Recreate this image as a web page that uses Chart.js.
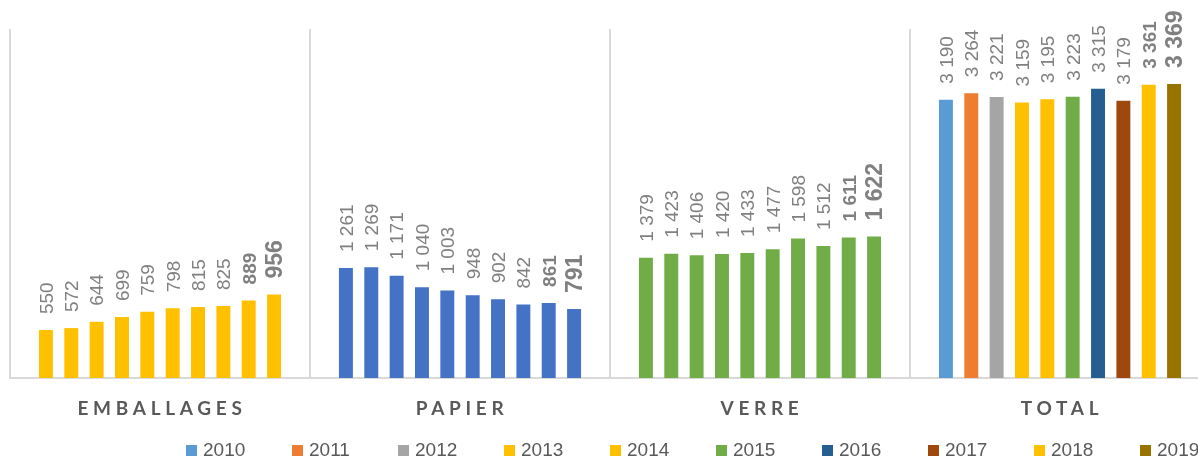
<!DOCTYPE html>
<html>
<head>
<meta charset="utf-8">
<script src="https://cdn.jsdelivr.net/npm/chart.js@4/dist/chart.umd.min.js"></script>
<style>
  html, body { margin: 0; padding: 0; background: #fff; overflow: hidden; }
  #zone { width: 1220px; height: 460px; }
</style>
</head>
<body>
<div id="zone"><canvas id="graphique" width="1220" height="460"></canvas></div>
<script>
// Données (tonnes) par filière et par année
const categories = ['EMBALLAGES', 'PAPIER', 'VERRE', 'TOTAL'];
const annees = ['2010', '2011', '2012', '2013', '2014', '2015', '2016', '2017', '2018', '2019'];
const emballages = [550, 572, 644, 699, 759, 798, 815, 825, 889, 956];
const papier = [1261, 1269, 1171, 1040, 1003, 948, 902, 842, 861, 791];
const verre = [1379, 1423, 1406, 1420, 1433, 1477, 1598, 1512, 1611, 1622];
const total = [3190, 3264, 3221, 3159, 3195, 3223, 3315, 3179, 3361, 3369];

const couleursAnnees = ['#5B9BD5', '#ED7D31', '#A5A5A5', '#FFC000', '#FFC000',
                        '#70AD47', '#255E91', '#9E480E', '#FFC000', '#997300'];
const couleursFilieres = ['#FFC000', '#4472C4', '#70AD47'];

function formatNombre(n) {
  return String(n).replace(/\B(?=(\d{3})+(?!\d))/g, ' ');
}

const datasets = annees.map((an, i) => ({
  label: an,
  data: [emballages[i], papier[i], verre[i], total[i]],
  backgroundColor: [...couleursFilieres, couleursAnnees[i]],
  categoryPercentage: 0.845,
  barPercentage: 0.55
}));

// Étiquettes verticales au-dessus des barres, noms des filières et légende
const etiquettes = {
  id: 'etiquettes',
  afterDatasetsDraw(chart) {
    const ctx = chart.ctx;
    chart.data.datasets.forEach((ds, i) => {
      const meta = chart.getDatasetMeta(i);
      const gras = i >= 8;
      const taille = i === 9 ? 23 : 19;
      ctx.save();
      ctx.font = (gras ? 'bold ' : '') + taille + 'px "Liberation Sans"';
      ctx.fillStyle = '#808080';
      ctx.textAlign = 'left';
      ctx.textBaseline = 'alphabetic';
      meta.data.forEach((barre, j) => {
        ctx.save();
        ctx.translate(barre.x, barre.y - 16);
        ctx.rotate(-Math.PI / 2);
        ctx.fillText(formatNombre(ds.data[j]), 0, taille * 0.36);
        ctx.restore();
      });
      ctx.restore();
    });
  },
  afterDraw(chart) {
    const ctx = chart.ctx;
    const x = chart.scales.x;
    // noms des catégories
    ctx.save();
    ctx.font = 'bold 19px Lato';
    ctx.fillStyle = '#595959';
    ctx.textAlign = 'center';
    ctx.textBaseline = 'middle';
    ctx.letterSpacing = '4.7px';
    categories.forEach((c, k) => {
      ctx.fillText(c, x.getPixelForTick(k) + 2, chart.chartArea.bottom + 31);
    });
    ctx.restore();

    // légende
    ctx.save();
    ctx.font = '19px "Liberation Sans"';
    ctx.textBaseline = 'middle';
    ctx.textAlign = 'left';
    annees.forEach((an, i) => {
      const px = 186 + i * 106;
      ctx.fillStyle = couleursAnnees[i];
      ctx.fillRect(px, 445, 11, 11);
      ctx.fillStyle = '#595959';
      ctx.fillText(an, px + 17, 451);
    });
    ctx.restore();
  }
};

new Chart(document.getElementById('graphique'), {
  type: 'bar',
  data: { labels: categories, datasets: datasets },
  options: {
    responsive: false,
    animation: false,
    devicePixelRatio: 1,
    layout: { padding: { left: 10, right: 10, top: 29, bottom: 82 } },
    scales: {
      x: {
        grid: { offset: true, color: '#d9d9d9', lineWidth: 2, drawTicks: false },
        border: { display: true, color: '#d9d9d9', width: 2 },
        ticks: { display: false }
      },
      y: {
        display: false,
        min: 0,
        max: 4000
      }
    },
    plugins: {
      legend: { display: false },
      tooltip: { enabled: false }
    }
  },
  plugins: [etiquettes]
});
</script>
</body>
</html>
